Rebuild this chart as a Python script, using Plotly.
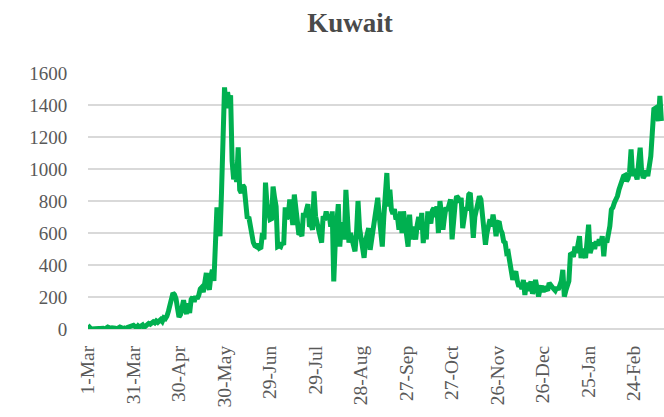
import pandas as pd
import plotly.graph_objects as go

title = "Kuwait"
start_date = "2020-03-01"

# daily new cases, in consecutive blocks from 1-Mar-2020 onward
block01 = [0, 11, 0, 2, 2, 0, 1, 3, 3, 5, 4, 0, 8, 12, 8, 0, 7, 2, 5, 1, 11, 12, 8, 0, 6, 2, 10, 13, 17, 14, 23]
block02 = [15, 8, 20, 12, 18, 25, 10, 22, 28, 35, 30, 40, 45, 38, 50, 42, 55, 60, 48, 70, 65, 80,
           110, 150, 205, 225, 215, 190, 130, 75]
block03 = [90, 140, 180, 120, 95, 160, 100, 185, 200, 170, 205, 190, 210, 250, 260, 230, 300, 350, 280,
           245, 330, 370, 300, 690, 760, 700, 580, 850, 1250, 1510]
block04 = [1380, 1480, 1420, 1460, 1050, 935, 980, 920, 1135, 870, 850, 900, 885, 760, 690, 700, 640,
           620, 540, 520, 515, 530, 505, 510, 600, 560, 915, 780, 700, 685]
block05 = [690, 890, 820, 765, 515, 520, 515, 540, 525, 760, 690, 705, 810, 720, 650, 840, 760, 685,
           590, 600, 580, 725, 700, 745, 780, 640, 650, 620, 860, 705, 660]
block06 = [620, 590, 540, 705, 680, 735, 690, 715, 640, 735, 297, 540, 690, 780, 515, 665, 640, 560,
           870, 640, 540, 600, 560, 520, 485, 600, 800, 630, 560, 500, 445]
block07 = [550, 600, 630, 495, 560, 600, 650, 720, 820, 705, 620, 515, 700, 860, 975, 765, 870, 745,
           720, 750, 685, 700, 620, 735, 600, 735, 650, 570, 515, 715]
block08 = [560, 640, 600, 560, 650, 700, 620, 725, 537, 650, 560, 735, 690, 660, 740, 757, 700, 767,
           600, 800, 720, 620, 700, 760, 740, 780, 810, 560, 720, 780, 830]
block09 = [820, 790, 820, 630, 700, 760, 740, 840, 850, 685, 570, 700, 760, 800, 830, 810, 700, 560,
           527, 600, 663, 685, 640, 715, 660, 580, 663, 673, 620, 600]
block10 = [548, 540, 475, 480, 422, 360, 307, 340, 360, 300, 265, 280, 250, 307, 213, 290, 240, 260,
           297, 220, 250, 307, 260, 203, 250, 270, 230, 265, 250, 240, 287]
block11 = [270, 255, 250, 240, 260, 245, 265, 300, 370, 203, 240, 280, 300, 465, 470, 450, 515, 475,
           520, 580, 443, 500, 480, 443, 550, 652, 475, 520, 540, 500, 548]
block12 = [520, 560, 530, 580, 455, 560, 540, 590, 642, 746, 760, 789, 810, 830, 870, 900, 935, 955,
           960, 924, 940, 980, 1123, 955, 1000, 960, 935, 1040]
block13 = [1133, 980, 945, 960, 990, 955, 1008, 1080, 1228, 1374, 1380, 1332, 1300, 1457, 1300]

cases = (block01 + block02 + block03 + block04 + block05 + block06 + block07 + block08 +
         block09 + block10 + block11 + block12 + block13)
dates = pd.date_range(start_date, periods=len(cases), freq="D")

tick_dates = pd.date_range(start_date, periods=13, freq="30D")
tick_labels = ["1-Mar", "31-Mar", "30-Apr", "30-May", "29-Jun", "29-Jul", "28-Aug",
               "27-Sep", "27-Oct", "26-Nov", "26-Dec", "25-Jan", "24-Feb"]
y_ticks = [0, 200, 400, 600, 800, 1000, 1200, 1400, 1600]

fig = go.Figure()
fig.add_trace(go.Scatter(x=dates, y=cases, mode="lines",
                         line=dict(color="#00b050", width=5), hoverinfo="x+y"))

serif = "Liberation Serif, Times New Roman, serif"
txt = "#595959"
fig.update_layout(
    width=664, height=417,
    margin=dict(l=88, r=0, t=73, b=88),
    paper_bgcolor="white", plot_bgcolor="white",
    showlegend=False,
    title=dict(text="<b>" + title + "</b>", x=0.527, xanchor="center", y=0.947, yanchor="middle",
               font=dict(family=serif, size=27, color="#4a4a4a")),
    font=dict(family=serif, color=txt),
)
x_end = pd.Timestamp(start_date) + pd.Timedelta(days=379.7)
fig.update_xaxes(
    type="date", range=[pd.Timestamp(start_date), x_end], automargin=False,
    tickvals=tick_dates, ticktext=tick_labels, tickangle=-90,
    tickfont=dict(family=serif, size=19.5, color=txt),
    showgrid=False, zeroline=False, showline=False,
    ticks="outside", ticklen=8, tickcolor="rgba(0,0,0,0)",
)
fig.update_yaxes(
    range=[0, 1600], tickvals=y_ticks, automargin=False,
    tickfont=dict(family=serif, size=19, color=txt),
    showgrid=True, gridcolor="#d9d9d9", gridwidth=1.5,
    zeroline=True, zerolinecolor="#d9d9d9", zerolinewidth=1.5,
    ticks="outside", ticklen=16, tickcolor="rgba(0,0,0,0)",
)
fig.write_html("out.html", config={"displayModeBar": False},
               post_script="document.body.style.margin='0';")
